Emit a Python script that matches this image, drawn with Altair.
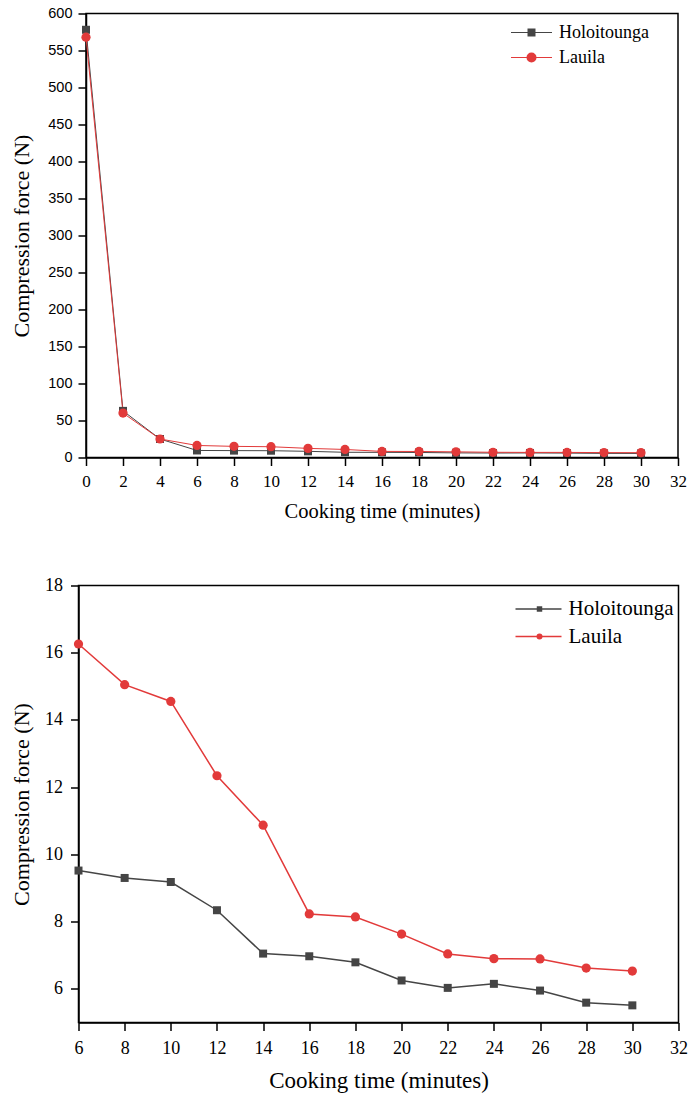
import altair as alt
import pandas as pd

# ---- data ----
cooking_time = [0, 2, 4, 6, 8, 10, 12, 14, 16, 18, 20, 22, 24, 26, 28, 30]
holoitounga = [578, 63, 25, 9.52, 9.30, 9.18, 8.34, 7.05, 6.97, 6.79, 6.25, 6.03, 6.15, 5.95, 5.59, 5.51]
lauila = [568, 60, 25, 16.26, 15.05, 14.55, 12.34, 10.87, 8.23, 8.14, 7.63, 7.04, 6.90, 6.89, 6.62, 6.53]
series_names = ["Holoitounga", "Lauila"]
series_colors = ["#454545", "#e23a3a"]
series_shapes = ["square", "circle"]

top_x_ticks = list(range(0, 33, 2))
top_y_ticks = list(range(0, 601, 50))
bottom_x_ticks = list(range(6, 33, 2))
bottom_y_ticks = [6, 8, 10, 12, 14, 16, 18]

x_title = "Cooking time (minutes)"
y_title = "Compression force (N)"

rows = []
for t, h, l in zip(cooking_time, holoitounga, lauila):
    rows.append({"time": t, "force": h, "series": series_names[0]})
    rows.append({"time": t, "force": l, "series": series_names[1]})
df = pd.DataFrame(rows)
one = pd.DataFrame({"a": [0]})

SERIF = "Liberation Serif"
SANS = "Liberation Sans"


def legend_layers(x0, x1, xm, xt, ys, msizes, lw, fsize):
    layers = []
    for i, name in enumerate(series_names):
        layers.append(
            alt.Chart(one).mark_rule(color=series_colors[i], strokeWidth=lw).encode(
                x=alt.value(x0), x2=alt.value(x1), y=alt.value(ys[i])
            )
        )
        layers.append(
            alt.Chart(one).mark_point(
                shape=series_shapes[i], filled=True, opacity=1,
                size=msizes[i], color=series_colors[i]
            ).encode(x=alt.value(xm), y=alt.value(ys[i]))
        )
        layers.append(
            alt.Chart(one).mark_text(
                align="left", baseline="middle", font=SERIF, fontSize=fsize, color="black"
            ).encode(x=alt.value(xt), y=alt.value(ys[i]), text=alt.value(name))
        )
    return layers


def panel(data, xdom, ydom, xticks, yticks, w, h, ylab_font, ylab_size, xlab_size,
          xtitle_size, ytitle_size, ytitle_x, xtitle_y, msizes, lw, ylab_pad, xlab_pad, legend):
    xaxis = alt.Axis(
        values=xticks, title=x_title, grid=False, tickSize=8, tickWidth=1.5, tickColor="black",
        domainColor="black", domainWidth=1.5, labelFont=SERIF, labelFontSize=xlab_size,
        labelColor="black", labelPadding=xlab_pad, labelFlush=False, labelOverlap=False,
        titleFont=SERIF, titleFontSize=xtitle_size, titleFontWeight="normal", titleColor="black",
        titleY=xtitle_y, titleBaseline="top",
    )
    yaxis = alt.Axis(
        values=yticks, title=y_title, grid=False, tickSize=8, tickWidth=1.5, tickColor="black",
        domainColor="black", domainWidth=1.5, labelFont=ylab_font, labelFontSize=ylab_size,
        labelColor="black", labelPadding=ylab_pad, labelFlush=False, labelOverlap=False,
        titleFont=SERIF, titleFontSize=ytitle_size, titleFontWeight="normal", titleColor="black",
        titleX=ytitle_x, titleBaseline="bottom",
    )
    color = alt.Color("series:N", scale=alt.Scale(domain=series_names, range=series_colors), legend=None)
    shape = alt.Shape("series:N", scale=alt.Scale(domain=series_names, range=series_shapes), legend=None)
    base = alt.Chart(data).encode(
        x=alt.X("time:Q", scale=alt.Scale(domain=xdom, nice=False, zero=False), axis=xaxis),
        y=alt.Y("force:Q", scale=alt.Scale(domain=ydom, nice=False, zero=False), axis=yaxis),
        color=color,
    )
    lines = base.mark_line(strokeWidth=lw)
    pts = base.mark_point(filled=True, opacity=1, size=msizes[0]).encode(
        shape=shape,
        size=alt.Size("series:N", scale=alt.Scale(domain=series_names, range=msizes), legend=None),
    )
    return alt.layer(lines, pts, *legend).properties(width=w, height=h)


top = panel(
    df, [0, 32], [0, 600], top_x_ticks, top_y_ticks, 592, 444,
    SANS, 14.5, 17, 20.5, 22, -53, 44, [64, 85], 1, 6, 8,
    legend_layers(425, 466, 445.5, 473, [19, 44], [64, 100], 1, 18),
)
bottom = panel(
    df[df["time"] >= 6], [6, 32], [5, 18], bottom_x_ticks, bottom_y_ticks, 600, 437,
    SERIF, 18, 18, 23, 22, -45, 47, [44, 50], 1.5, 8, 9,
    legend_layers(437, 483, 461, 490, [23.5, 51], [30, 36], 1.5, 21),
)

# invisible 1px spacer that shifts the upper panel 8px to the right of the lower one
spacer = alt.Chart(one).mark_rule(strokeWidth=0, opacity=0).encode(
    x=alt.value(0), y=alt.value(0), y2=alt.value(1)
).properties(width=1, height=444, view=alt.ViewBackground(stroke="transparent"))

top_row = alt.hconcat(spacer, top, spacing=-71.5)

chart = alt.vconcat(top_row, bottom, spacing=52).properties(
    padding={"left": 8.5, "top": 4.5, "right": 0, "bottom": 0}
).configure_view(stroke="black", strokeWidth=1.5)

chart.save("out.html", embed_options={"renderer": "svg", "actions": False})
